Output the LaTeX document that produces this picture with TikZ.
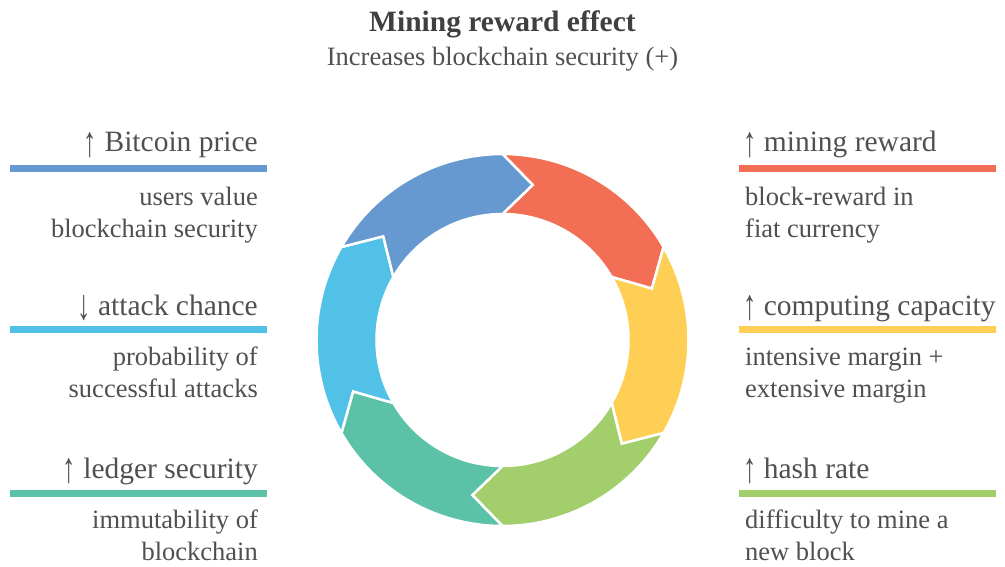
\documentclass[tikz,border=0pt]{standalone}
\usepackage{fontspec}
\setmainfont{Liberation Serif}
\usetikzlibrary{calc}

\definecolor{segred}{RGB}{242,110,85}
\definecolor{segyellow}{RGB}{255,207,85}
\definecolor{seggreen}{RGB}{163,206,108}
\definecolor{segteal}{RGB}{91,194,168}
\definecolor{segcyan}{RGB}{82,193,232}
\definecolor{segblue}{RGB}{102,153,207}
\definecolor{txtgray}{RGB}{80,80,80}
\definecolor{titlegray}{RGB}{64,64,64}

\newcommand{\uparr}{\raisebox{-0.16em}{\scalebox{0.9}[1.45]{↑}}}
\newcommand{\downarr}{\raisebox{-0.16em}{\scalebox{0.9}[1.45]{↓}}}

\begin{document}
\begin{tikzpicture}[x=1pt, y=1pt,
  head/.style={font=\fontsize{29.5}{35}\selectfont, text=txtgray, inner sep=0pt},
  desc/.style={font=\fontsize{26.5}{32}\selectfont, text=txtgray, inner sep=0pt},
  bar/.style={line width=6.5pt},
  seg/.style={draw=white, line width=2.5pt, line join=miter}]
  \useasboundingbox (0,0) rectangle (1005,-566);

  % title
  \node[font=\bfseries\fontsize{29.5}{35}\selectfont, text=titlegray, inner sep=0pt, anchor=base] (title) at (502.5,-31) {Mining reward effect};
  \node[font=\fontsize{26.5}{32}\selectfont, text=txtgray, inner sep=0pt, anchor=base] (subtitle) at (502.5,-65) {Increases blockchain security (+)};

  % ring of arrows
  \coordinate (c) at (502.5,-340);
  \foreach \s/\col [evaluate=\s as \e using \s-60] in {90/segred, 30/segyellow, -30/seggreen, -90/segteal, -150/segcyan, 150/segblue}
    \filldraw[seg, fill=\col] ([shift={(c)}]\s:186) arc[start angle=\s, end angle=\e, radius=186pt]
      -- ([shift={(c)}]\e-11:158) -- ([shift={(c)}]\e:126)
      arc[start angle=\e, end angle=\s, radius=126pt] -- ([shift={(c)}]\s-11:158) -- cycle;

  % left column
  \node[head, anchor=base east] (price) at (258,-151.7) {\uparr\ Bitcoin price};
  \draw[bar, segblue] (10,-168.5) -- (267,-168.5);
  \node[desc, anchor=base east] (pricetxt) at (258,-205) {\begin{tabular}[t]{@{}r@{}}users value\\blockchain security\end{tabular}};

  \node[head, anchor=base east] (attack) at (258,-315) {\downarr\ attack chance};
  \draw[bar, segcyan] (10,-329.5) -- (267,-329.5);
  \node[desc, anchor=base east] (attacktxt) at (258,-365) {\begin{tabular}[t]{@{}r@{}}probability of\\successful attacks\end{tabular}};

  \node[head, anchor=base east] (ledger) at (258,-478) {\uparr\ ledger security};
  \draw[bar, segteal] (10,-493.5) -- (267,-493.5);
  \node[desc, anchor=base east] (ledgertxt) at (258,-528) {\begin{tabular}[t]{@{}r@{}}immutability of\\blockchain\end{tabular}};

  % right column
  \node[head, anchor=base west] (reward) at (743,-151.7) {\uparr\ mining reward};
  \draw[bar, segred] (739,-168.5) -- (996,-168.5);
  \node[desc, anchor=base west] (rewardtxt) at (745,-205) {\begin{tabular}[t]{@{}l@{}}block-reward in\\fiat currency\end{tabular}};

  \node[head, anchor=base west] (capacity) at (743,-315) {\uparr\ computing capacity};
  \draw[bar, segyellow] (739,-329.5) -- (996,-329.5);
  \node[desc, anchor=base west] (capacitytxt) at (745,-365) {\begin{tabular}[t]{@{}l@{}}intensive margin +\\extensive margin\end{tabular}};

  \node[head, anchor=base west] (hash) at (743,-478) {\uparr\ hash rate};
  \draw[bar, seggreen] (739,-493.5) -- (996,-493.5);
  \node[desc, anchor=base west] (hashtxt) at (745,-528) {\begin{tabular}[t]{@{}l@{}}difficulty to mine a\\new block\end{tabular}};
\end{tikzpicture}
\end{document}
